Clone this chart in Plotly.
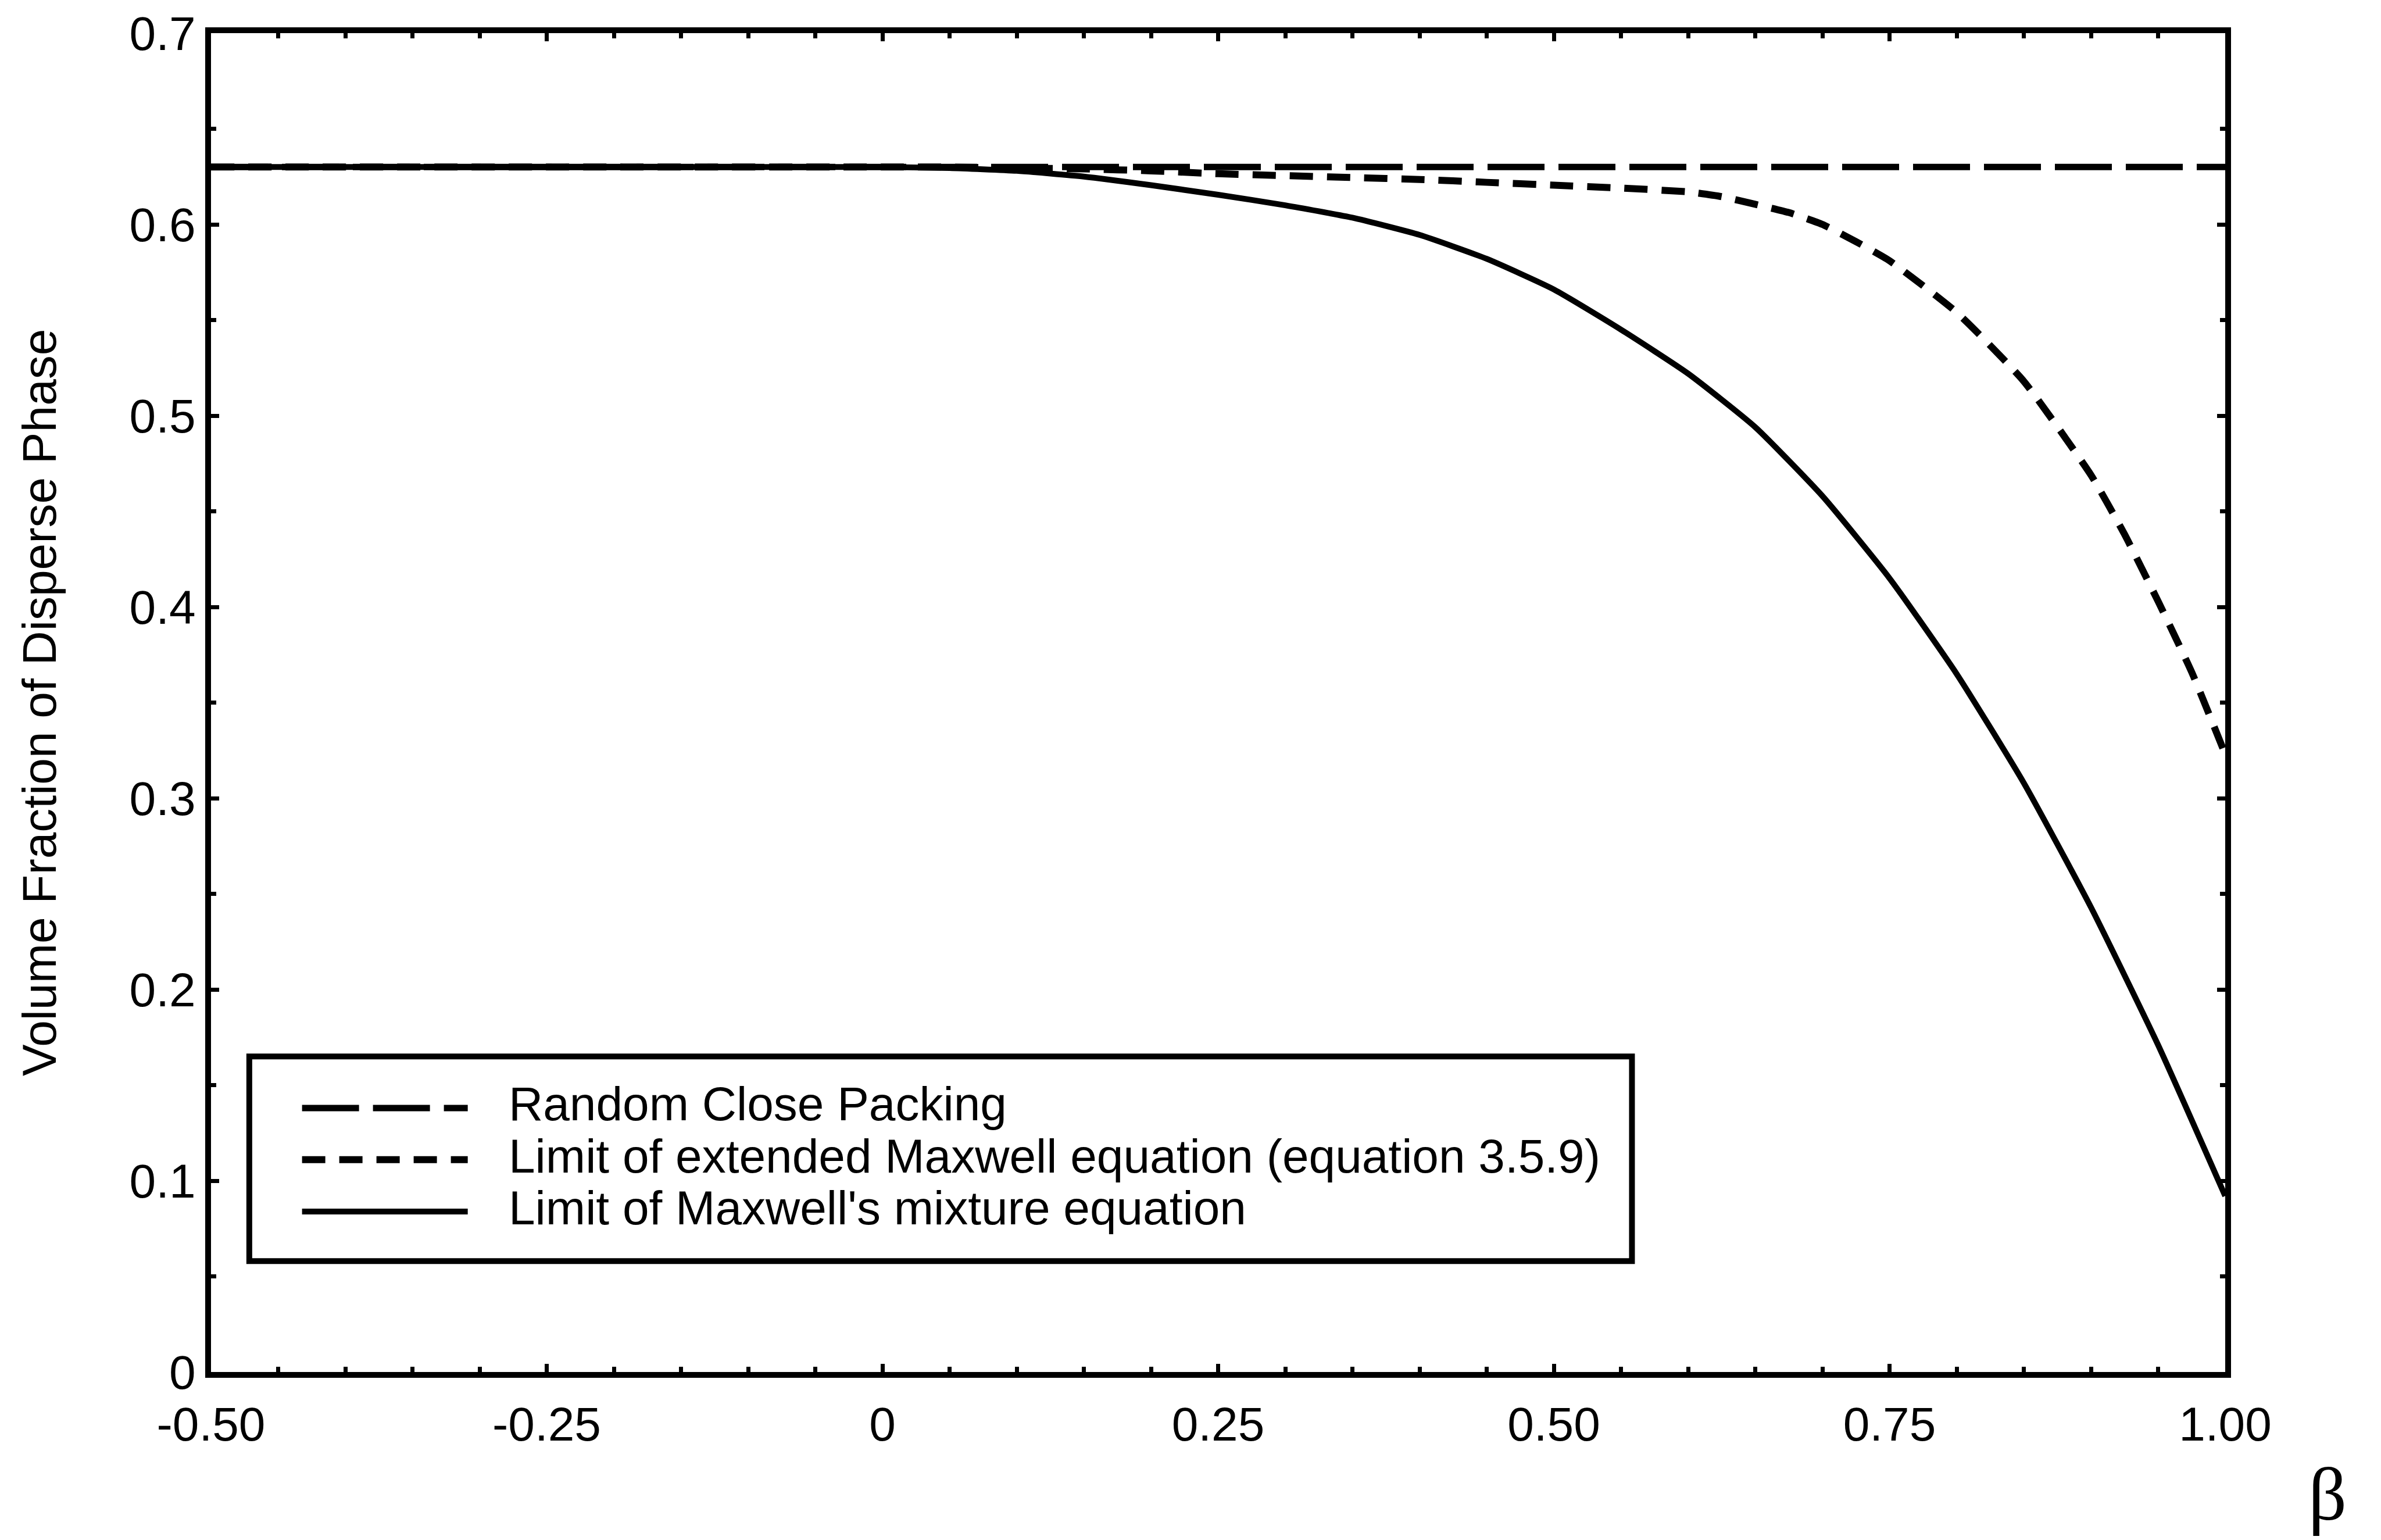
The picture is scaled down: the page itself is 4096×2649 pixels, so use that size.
import plotly.graph_objects as go

# ---- data ----
beta_rcp = [-0.5, 1.0]
phi_rcp = [0.63, 0.63]

beta_ext = [-0.5, 0.0, 0.05, 0.1, 0.15, 0.2, 0.25, 0.3, 0.35, 0.4, 0.45, 0.5,
            0.55, 0.6, 0.625, 0.65, 0.675, 0.7, 0.725, 0.75, 0.8, 0.85, 0.9, 0.925,
            0.95, 0.975, 1.0]
phi_ext = [0.630, 0.630, 0.630, 0.6295, 0.629, 0.628, 0.6265, 0.6255, 0.6245, 0.6235,
           0.622, 0.6205, 0.619, 0.617, 0.6145, 0.6105, 0.6062, 0.600, 0.591, 0.581,
           0.554, 0.518, 0.469, 0.438, 0.403, 0.366, 0.323]

beta_mix = [-0.5, 0.0, 0.05, 0.1, 0.15, 0.2, 0.25, 0.3, 0.35, 0.4, 0.45, 0.5,
            0.55, 0.6, 0.65, 0.7, 0.75, 0.8, 0.85, 0.9, 0.95, 1.0]
phi_mix = [0.630, 0.630, 0.6295, 0.628, 0.625, 0.6205, 0.6155, 0.610, 0.6035, 0.5945,
           0.582, 0.566, 0.545, 0.522, 0.494, 0.458, 0.415, 0.365, 0.308, 0.243,
           0.171, 0.092]

x_tickvals = [-0.5, -0.25, 0, 0.25, 0.5, 0.75, 1.0]
x_ticktext = ["-0.50", "-0.25", "0", "0.25", "0.50", "0.75", "1.00"]
y_tickvals = [0, 0.1, 0.2, 0.3, 0.4, 0.5, 0.6, 0.7]
y_ticktext = ["0", "0.1", "0.2", "0.3", "0.4", "0.5", "0.6", "0.7"]

legend_labels = ["Random Close Packing",
                 "Limit of extended Maxwell equation (equation 3.5.9)",
                 "Limit of Maxwell's mixture equation"]

FONT = "Liberation Sans, Arial, Helvetica, sans-serif"
W, H = 4096, 2649
ML, MR, MT, MB = 363, 268, 54, 289

RCP_DASH = "98px,24px"
EXT_DASH = "40px,24px"

fig = go.Figure()
fig.add_trace(go.Scatter(x=beta_rcp, y=phi_rcp, mode="lines", name=legend_labels[0],
                         line=dict(color="black", width=11, dash=RCP_DASH), showlegend=False))
fig.add_trace(go.Scatter(x=beta_ext, y=phi_ext, mode="lines", name=legend_labels[1],
                         line=dict(color="black", width=12, dash=EXT_DASH, shape="spline",
                                   smoothing=0.5), showlegend=False))
fig.add_trace(go.Scatter(x=beta_mix, y=phi_mix, mode="lines", name=legend_labels[2],
                         line=dict(color="black", width=10, shape="spline", smoothing=0.5),
                         showlegend=False))

# ---- manual legend (box, samples, labels) ----
box_x0, box_x1 = -0.4715, 0.5582
box_y0, box_y1 = 0.058, 0.165
fig.add_shape(type="rect", xref="x", yref="y", x0=box_x0, x1=box_x1, y0=box_y0, y1=box_y1,
              line=dict(color="black", width=10), fillcolor="rgba(0,0,0,0)", layer="above")
row_text_y = [0.1403, 0.1130, 0.0860]
row_line_y = [0.1380, 0.1110, 0.0839]
dashes = [RCP_DASH, EXT_DASH, "solid"]
widths = [11, 12, 10]
for i in range(3):
    fig.add_shape(type="line", xref="x", yref="y", x0=-0.4322, x1=-0.3088,
                  y0=row_line_y[i], y1=row_line_y[i],
                  line=dict(color="black", width=widths[i], dash=dashes[i]))
    fig.add_annotation(x=-0.2792, y=row_text_y[i], xref="x", yref="y", text=legend_labels[i],
                       showarrow=False, xanchor="left", yanchor="middle",
                       font=dict(family=FONT, size=82, color="black"))

# y-axis title and beta label
fig.add_annotation(x=-0.0853, y=0.5, xref="paper", yref="paper",
                   text="Volume Fraction of Disperse Phase", textangle=-90,
                   showarrow=False, xanchor="center", yanchor="middle",
                   font=dict(family=FONT, size=82, color="black"))
fig.add_annotation(x=1.0508, y=-0.0911, xref="paper", yref="paper", text="β",
                   showarrow=False, xanchor="center", yanchor="middle",
                   font=dict(family="Liberation Serif, Times New Roman, serif", size=130,
                             color="black"))

axis_common = dict(showline=True, linecolor="black", linewidth=10, mirror="ticks",
                   ticks="inside", ticklen=14, tickwidth=7, tickcolor="black",
                   showgrid=False, zeroline=False,
                   tickfont=dict(family=FONT, size=82, color="black"))

fig.update_xaxes(range=[-0.5, 1.0], tickmode="array", tickvals=x_tickvals,
                 ticktext=x_ticktext, ticklabelstandoff=10,
                 minor=dict(dtick=0.05, tick0=0, ticks="inside", ticklen=9, tickwidth=7,
                            tickcolor="black", showgrid=False),
                 **axis_common)
fig.update_yaxes(range=[0, 0.7], tickmode="array", tickvals=y_tickvals,
                 ticktext=y_ticktext,
                 minor=dict(dtick=0.05, tick0=0, ticks="inside", ticklen=9, tickwidth=7,
                            tickcolor="black", showgrid=False),
                 **axis_common)

fig.update_layout(width=W, height=H, margin=dict(l=ML, r=MR, t=MT, b=MB, pad=0),
                  paper_bgcolor="white", plot_bgcolor="white", showlegend=False,
                  font=dict(family=FONT, color="black"))

fig.write_html("out.html")
